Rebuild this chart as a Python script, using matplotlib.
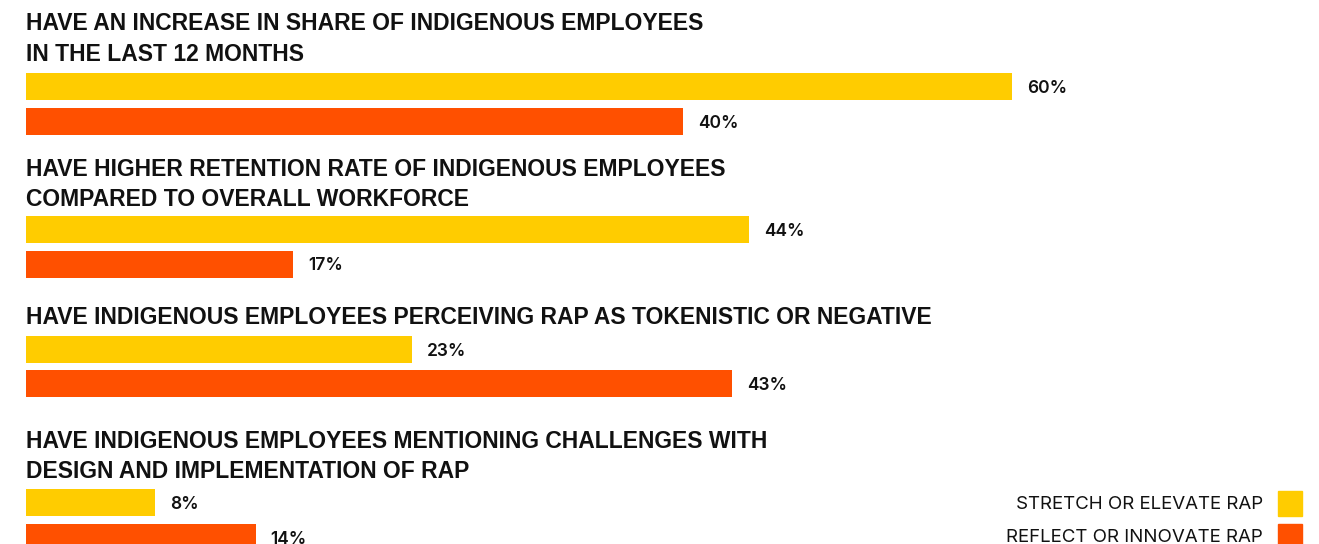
import matplotlib.pyplot as plt

# data
titles = [
    "HAVE AN INCREASE IN SHARE OF INDIGENOUS EMPLOYEES\nIN THE LAST 12 MONTHS",
    "HAVE HIGHER RETENTION RATE OF INDIGENOUS EMPLOYEES\nCOMPARED TO OVERALL WORKFORCE",
    "HAVE INDIGENOUS EMPLOYEES PERCEIVING RAP AS TOKENISTIC OR NEGATIVE",
    "HAVE INDIGENOUS EMPLOYEES MENTIONING CHALLENGES WITH\nDESIGN AND IMPLEMENTATION OF RAP",
]
stretch_vals = [60, 44, 23.5, 7.9]
reflect_vals = [40, 16.3, 43, 14]
stretch_lbl = ["60%", "44%", "23%", "8%"]
reflect_lbl = ["40%", "17%", "43%", "14%"]
series_names = ["STRETCH OR ELEVATE RAP", "REFLECT OR INNOVATE RAP"]

YELLOW = "#FFCC00"
ORANGE = "#FF5000"

# layout (pixel rows, top-down)
title_y = [24, 169, 318, 441]
bar_y = [86.5, 229.5, 349, 502.5]
pitch = 34.5
bar_h = 27
px_per = 16.44
x0 = 25.5

fig = plt.figure(figsize=(13.19, 5.44), dpi=100)
ax = fig.add_axes([0, 0, 1, 1])
ax.set_xlim(-x0 / px_per, (1319 - x0) / px_per)
ax.set_ylim(544, 0)
ax.axis("off")

tfont = dict(family=["Liberation Sans", "DejaVu Sans"], fontweight="bold", fontsize=16.5)
lfont = dict(family=["Inter", "DejaVu Sans"], fontweight="semibold", fontsize=12.5)

for i in range(4):
    lines = titles[i].split("\n")
    for j, ln in enumerate(lines):
        ax.text(0, title_y[i] + j * 30.5, ln, va="center", ha="left", color="#111111", **tfont)
    ys = bar_y[i]
    yr = bar_y[i] + pitch
    ax.barh(ys, stretch_vals[i], height=bar_h, color=YELLOW, left=0)
    ax.barh(yr, reflect_vals[i], height=bar_h, color=ORANGE, left=0)
    ax.text(stretch_vals[i] + 15 / px_per, ys + 2, stretch_lbl[i], va="center", ha="left", color="#111111", **lfont)
    ax.text(reflect_vals[i] + 15 / px_per, yr + 2, reflect_lbl[i], va="center", ha="left", color="#111111", **lfont)

# legend at bottom right
leg_y = [503, 536]
for k, (name, c) in enumerate(zip(series_names, [YELLOW, ORANGE])):
    fig.text(1263 / 1319, 1 - (leg_y[k] + 1.5) / 544, name, ha="right", va="center",
             family=["Inter", "DejaVu Sans"], fontsize=13.5, color="#111111")
    fig.patches.append(plt.Rectangle((1278 / 1319, 1 - (leg_y[k] + 12.5) / 544), 24 / 1319, 25 / 544,
                                     transform=fig.transFigure, color=c, figure=fig))

fig.savefig("out.png", dpi=100)
